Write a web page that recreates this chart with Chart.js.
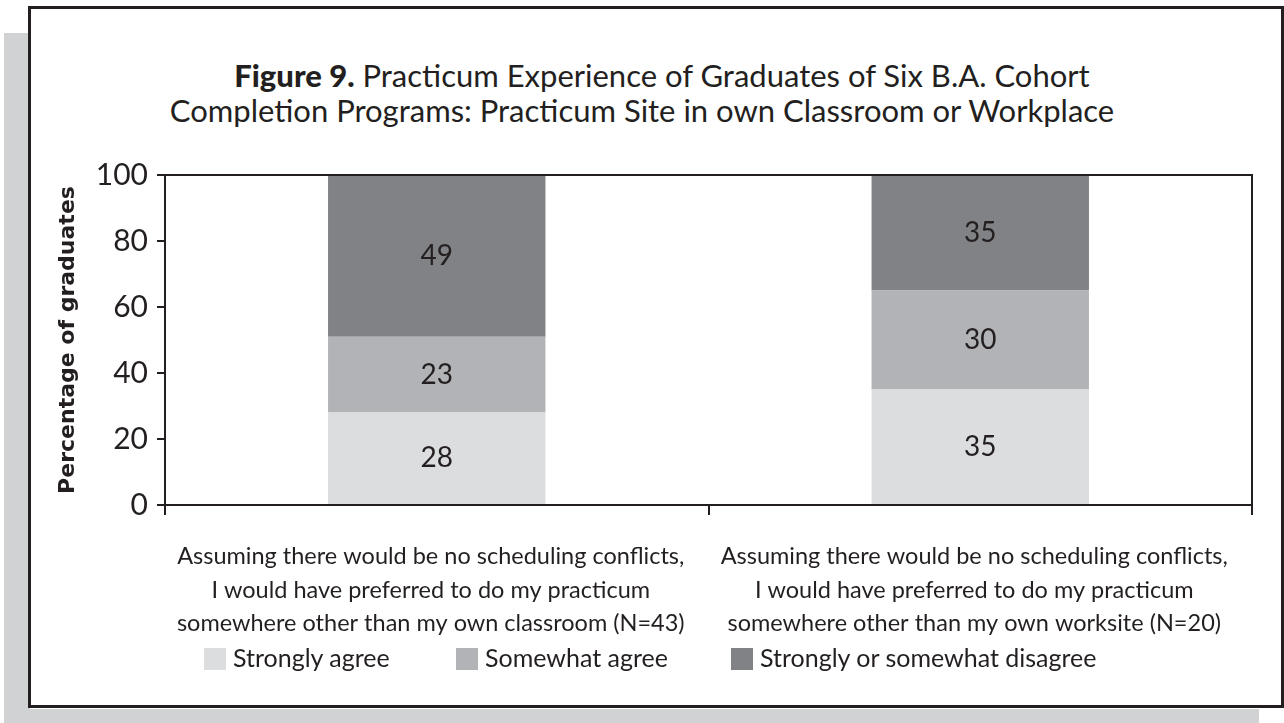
<!DOCTYPE html>
<html>
<head>
<meta charset="utf-8">
<script src="https://cdn.jsdelivr.net/npm/chart.js@4.4.1/dist/chart.umd.min.js"></script>
<style>
  body { margin: 0; width: 1284px; height: 723px; position: relative; overflow: hidden; background: #fff; color: #231f20; font-family: Lato, sans-serif; }
  .shade { position: absolute; background: #d1d2d4; }
  .frame { position: absolute; left: 28px; top: 6px; width: 1250px; height: 696px; border: 3px solid #231f20; background: #fff; }
  .title { position: absolute; width: 1200px; text-align: center; font-size: 31px; white-space: nowrap; }
  .title b { font-weight: 900; }
  #chartBox { position: absolute; left: 0; top: 0; width: 1284px; height: 723px; }
  .leg { position: absolute; top: 640px; font-size: 25px; line-height: 34px; white-space: nowrap; }
  .leg i { display: inline-block; width: 22px; height: 22px; vertical-align: -3px; margin-right: 7px; }
</style>
</head>
<body>
<div class="shade" style="left:4px;top:33px;width:26px;height:690px"></div>
<div class="shade" style="left:4px;top:709px;width:1255px;height:14px"></div>
<div class="frame"></div>

<div class="title" style="left:62px;top:56px"><b>Figure 9.</b> Practicum Experience of Graduates of Six B.A. Cohort</div>
<div class="title" style="left:42px;top:91px">Completion Programs: Practicum Site in own Classroom or Workplace</div>

<div id="chartBox"><canvas id="chart" width="1284" height="723"></canvas></div>

<div id="legend"></div>

<script>
// ---- data ----
const categories = [
  ['Assuming there would be no scheduling conflicts,', 'I would have preferred to do my practicum', 'somewhere other than my own classroom (N=43)'],
  ['Assuming there would be no scheduling conflicts,', 'I would have preferred to do my practicum', 'somewhere other than my own worksite (N=20)']
];
const seriesNames = ['Strongly agree', 'Somewhat agree', 'Strongly or somewhat disagree'];
const stronglyAgree = [28, 35];
const somewhatAgree = [23, 30];
const disagree = [49, 35];
const yTicks = [0, 20, 40, 60, 80, 100];

const colors = ['#dcdddf', '#b1b3b6', '#808285'];
const ink = '#231f20';

// value labels in the middle of each segment
const valueLabels = {
  id: 'valueLabels',
  afterDatasetsDraw(chart) {
    const ctx = chart.ctx;
    ctx.save();
    ctx.font = '28px Lato, sans-serif';
    ctx.fillStyle = ink;
    ctx.textAlign = 'center';
    ctx.textBaseline = 'middle';
    chart.data.datasets.forEach((ds, i) => {
      chart.getDatasetMeta(i).data.forEach((bar, j) => {
        ctx.fillText(ds.data[j], bar.x, (bar.y + bar.base) / 2);
      });
    });
    ctx.restore();
  }
};

// top + right edge of the plot box
const plotBox = {
  id: 'plotBox',
  afterDraw(chart) {
    const a = chart.chartArea;
    const ctx = chart.ctx;
    ctx.save();
    ctx.strokeStyle = ink;
    ctx.lineWidth = 2;
    ctx.beginPath();
    ctx.moveTo(a.left, a.top);
    ctx.lineTo(a.right, a.top);
    ctx.lineTo(a.right, a.bottom);
    ctx.stroke();
    ctx.restore();
  }
};

const datasets = [stronglyAgree, somewhatAgree, disagree].map((d, i) => ({
  label: seriesNames[i],
  data: d,
  backgroundColor: colors[i],
  barPercentage: 0.4,
  categoryPercentage: 1
}));

new Chart(document.getElementById('chart'), {
  type: 'bar',
  data: { labels: categories, datasets: datasets },
  options: {
    responsive: false,
    animation: false,
    layout: { padding: { left: 0, top: 175, right: 32, bottom: 0 } },
    plugins: {
      legend: { display: false },
      title: { display: false },
      tooltip: { enabled: false }
    },
    scales: {
      x: {
        stacked: true,
        afterFit: s => { s.height = 218; },
        grid: { drawOnChartArea: false, tickLength: 10, color: ink, lineWidth: 2, offset: true },
        border: { color: ink, width: 2 },
        ticks: { color: ink, font: { family: 'Lato', size: 23.5, lineHeight: 1.42 }, padding: 25, labelOffset: -6, maxRotation: 0, autoSkip: false }
      },
      y: {
        stacked: true,
        min: 0,
        max: 100,
        afterFit: s => { s.width = 165; },
        afterBuildTicks: s => { s.ticks = yTicks.map(v => ({ value: v })); },
        grid: { drawOnChartArea: false, tickLength: 8, color: ink, lineWidth: 2 },
        border: { color: ink, width: 2 },
        ticks: { color: ink, font: { family: 'Lato', size: 30 }, padding: 9 },
        title: {
          display: true,
          text: 'Percentage of graduates',
          color: ink,
          font: { family: 'DejaVu Sans', size: 22, weight: 'bold' },
          padding: { top: 55, bottom: 0 }
        }
      }
    }
  },
  plugins: [valueLabels, plotBox]
});

// legend
const legendLeft = [204, 456, 731];
document.getElementById('legend').innerHTML = seriesNames.map((n, i) =>
  `<div class="leg" style="left:${legendLeft[i]}px"><i style="background:${colors[i]}"></i>${n}</div>`
).join('');
</script>
</body>
</html>
